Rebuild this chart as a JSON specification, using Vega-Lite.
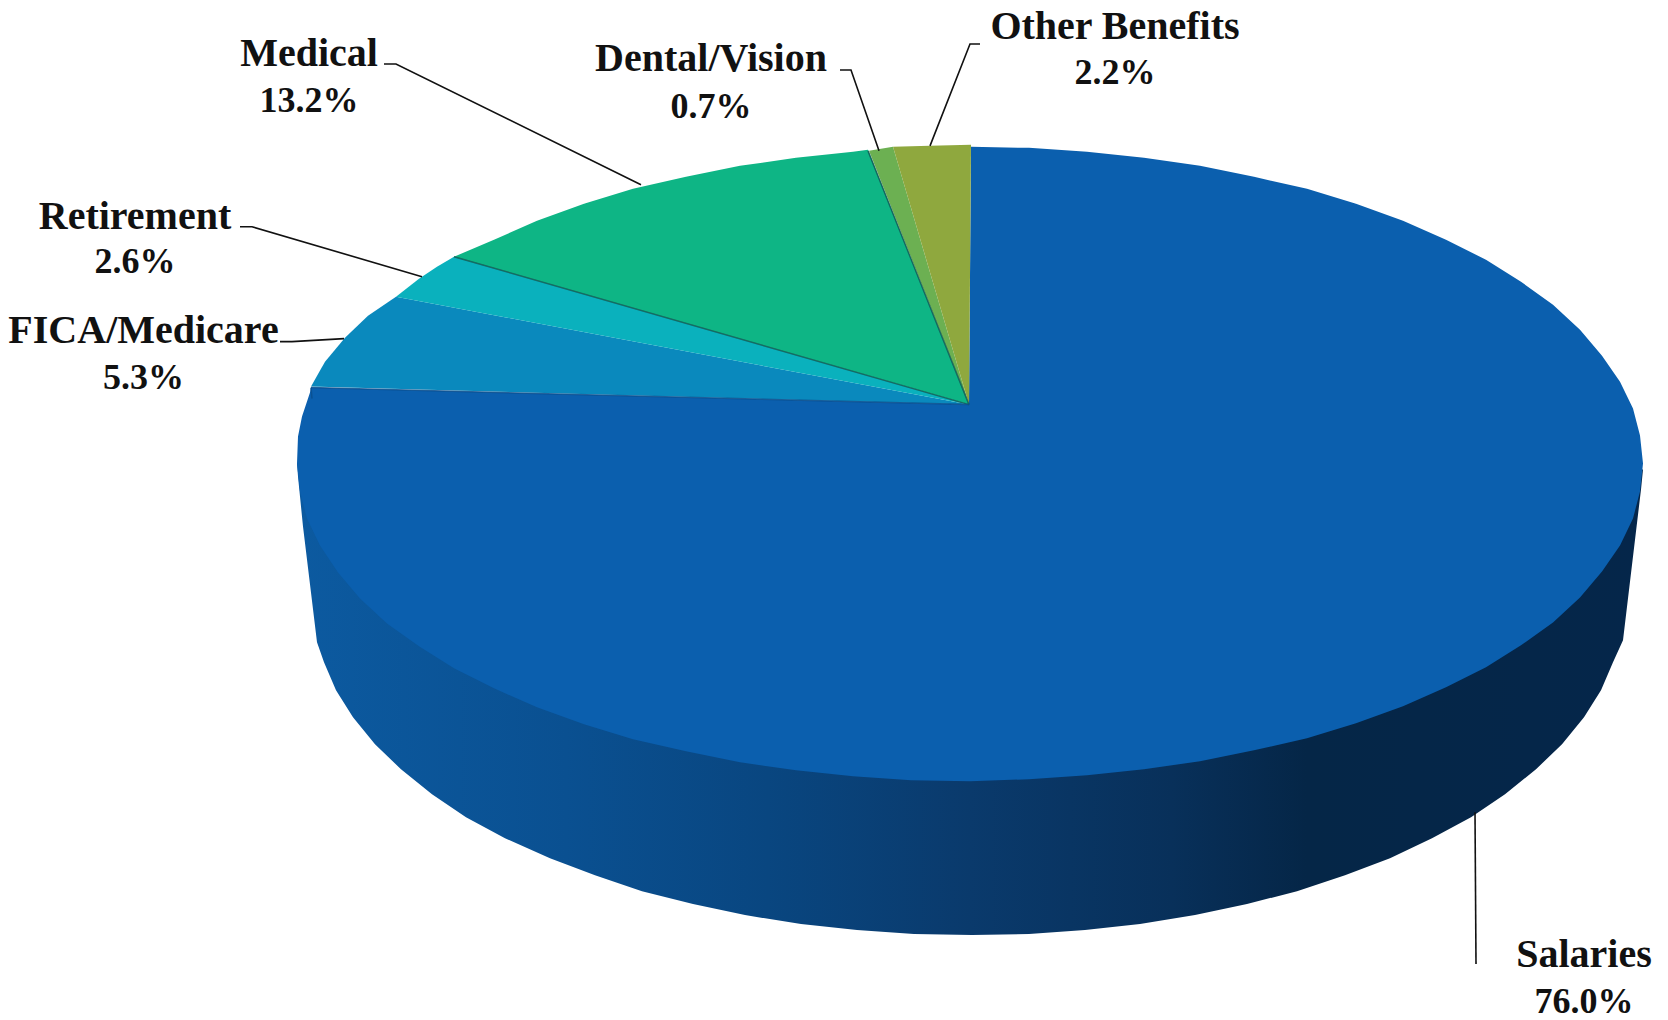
{
  "$schema": "https://vega.github.io/schema/vega-lite/v6.json",
  "width": 1668,
  "height": 1020,
  "padding": 0,
  "autosize": {"type": "fit", "contains": "padding"},
  "background": "#ffffff",
  "view": {"stroke": null},
  "config": {"axis": {"disable": true}},
  "datasets": {
    "shares": [
      {"slice": "Salaries", "share": 0.76, "x": 1584, "yName": 968, "yShare": 1014},
      {"slice": "FICA/Medicare", "share": 0.053, "x": 143.5, "yName": 343, "yShare": 389},
      {"slice": "Retirement", "share": 0.026, "x": 135, "yName": 229, "yShare": 273},
      {"slice": "Medical", "share": 0.132, "x": 309, "yName": 66, "yShare": 112},
      {"slice": "Dental/Vision", "share": 0.007, "x": 711, "yName": 71, "yShare": 118},
      {"slice": "Other Benefits", "share": 0.022, "x": 1115, "yName": 39, "yShare": 84}
    ],
    "side": [
      {"i":0,"x":1643,"y":470},{"i":1,"x":1641,"y":490},{"i":2,"x":1623,"y":641},{"i":3,"x":1613,"y":663},
      {"i":4,"x":1601,"y":691},{"i":5,"x":1584,"y":718},{"i":6,"x":1562,"y":745},{"i":7,"x":1536,"y":770},
      {"i":8,"x":1505,"y":795},{"i":9,"x":1471,"y":818},{"i":10,"x":1432,"y":839},{"i":11,"x":1390,"y":859},
      {"i":12,"x":1345,"y":876},{"i":13,"x":1297,"y":892},{"i":14,"x":1247,"y":905},{"i":15,"x":1195,"y":916},
      {"i":16,"x":1140,"y":925},{"i":17,"x":1085,"y":931},{"i":18,"x":1029,"y":935},{"i":19,"x":972,"y":936},
      {"i":20,"x":914,"y":935},{"i":21,"x":857,"y":931},{"i":22,"x":801,"y":925},{"i":23,"x":745,"y":916},
      {"i":24,"x":693,"y":905},{"i":25,"x":642,"y":892},{"i":26,"x":595,"y":876},{"i":27,"x":550,"y":859},
      {"i":28,"x":505,"y":839},{"i":29,"x":466,"y":818},{"i":30,"x":432,"y":795},{"i":31,"x":401,"y":770},
      {"i":32,"x":375,"y":745},{"i":33,"x":353,"y":718},{"i":34,"x":336,"y":691},{"i":35,"x":324,"y":663},
      {"i":36,"x":317,"y":643},{"i":37,"x":303,"y":527},{"i":38,"x":298,"y":477},{"i":39,"x":297,"y":464}
    ],
    "top": [
      {"slice":"Salaries","i":0,"x":969,"y":405},{"slice":"Salaries","i":1,"x":971,"y":147},
      {"slice":"Salaries","i":2,"x":1029,"y":148},{"slice":"Salaries","i":3,"x":1087,"y":152},
      {"slice":"Salaries","i":4,"x":1144,"y":158},{"slice":"Salaries","i":5,"x":1200,"y":166},
      {"slice":"Salaries","i":6,"x":1254,"y":177},{"slice":"Salaries","i":7,"x":1307,"y":189},
      {"slice":"Salaries","i":8,"x":1356,"y":204},{"slice":"Salaries","i":9,"x":1403,"y":221},
      {"slice":"Salaries","i":10,"x":1446,"y":240},{"slice":"Salaries","i":11,"x":1486,"y":260},
      {"slice":"Salaries","i":12,"x":1521,"y":282},{"slice":"Salaries","i":13,"x":1553,"y":305},
      {"slice":"Salaries","i":14,"x":1580,"y":330},{"slice":"Salaries","i":15,"x":1602,"y":356},
      {"slice":"Salaries","i":16,"x":1620,"y":382},{"slice":"Salaries","i":17,"x":1633,"y":409},
      {"slice":"Salaries","i":18,"x":1640,"y":436},{"slice":"Salaries","i":19,"x":1643,"y":464},
      {"slice":"Salaries","i":20,"x":1640,"y":492},{"slice":"Salaries","i":21,"x":1633,"y":519},
      {"slice":"Salaries","i":22,"x":1620,"y":546},{"slice":"Salaries","i":23,"x":1602,"y":572},
      {"slice":"Salaries","i":24,"x":1580,"y":598},{"slice":"Salaries","i":25,"x":1553,"y":623},
      {"slice":"Salaries","i":26,"x":1521,"y":646},{"slice":"Salaries","i":27,"x":1486,"y":668},
      {"slice":"Salaries","i":28,"x":1446,"y":688},{"slice":"Salaries","i":29,"x":1403,"y":707},
      {"slice":"Salaries","i":30,"x":1356,"y":724},{"slice":"Salaries","i":31,"x":1307,"y":739},
      {"slice":"Salaries","i":32,"x":1254,"y":751},{"slice":"Salaries","i":33,"x":1200,"y":762},
      {"slice":"Salaries","i":34,"x":1144,"y":770},{"slice":"Salaries","i":35,"x":1087,"y":776},
      {"slice":"Salaries","i":36,"x":1029,"y":780},{"slice":"Salaries","i":37,"x":970,"y":782},
      {"slice":"Salaries","i":38,"x":911,"y":781},{"slice":"Salaries","i":39,"x":853,"y":777},
      {"slice":"Salaries","i":40,"x":796,"y":771},{"slice":"Salaries","i":41,"x":740,"y":763},
      {"slice":"Salaries","i":42,"x":686,"y":752},{"slice":"Salaries","i":43,"x":633,"y":740},
      {"slice":"Salaries","i":44,"x":584,"y":725},{"slice":"Salaries","i":45,"x":537,"y":708},
      {"slice":"Salaries","i":46,"x":494,"y":689},{"slice":"Salaries","i":47,"x":454,"y":669},
      {"slice":"Salaries","i":48,"x":419,"y":647},{"slice":"Salaries","i":49,"x":387,"y":624},
      {"slice":"Salaries","i":50,"x":360,"y":599},{"slice":"Salaries","i":51,"x":338,"y":573},
      {"slice":"Salaries","i":52,"x":320,"y":546},{"slice":"Salaries","i":53,"x":307,"y":519},
      {"slice":"Salaries","i":54,"x":300,"y":492},{"slice":"Salaries","i":55,"x":297,"y":464},
      {"slice":"Salaries","i":56,"x":298,"y":437},{"slice":"Salaries","i":57,"x":302,"y":417},
      {"slice":"Salaries","i":58,"x":310,"y":393},{"slice":"Salaries","i":59,"x":311,"y":388},

      {"slice":"FICA/Medicare","i":0,"x":969,"y":405},{"slice":"FICA/Medicare","i":1,"x":311,"y":387},
      {"slice":"FICA/Medicare","i":2,"x":325,"y":362},{"slice":"FICA/Medicare","i":3,"x":345,"y":338},
      {"slice":"FICA/Medicare","i":4,"x":368,"y":316},{"slice":"FICA/Medicare","i":5,"x":396,"y":297},

      {"slice":"Retirement","i":0,"x":969,"y":405},{"slice":"Retirement","i":1,"x":396,"y":297},
      {"slice":"Retirement","i":2,"x":419,"y":279},{"slice":"Retirement","i":3,"x":437,"y":267},
      {"slice":"Retirement","i":4,"x":454,"y":257},

      {"slice":"Medical","i":0,"x":969,"y":405},{"slice":"Medical","i":1,"x":454,"y":257},
      {"slice":"Medical","i":2,"x":494,"y":240},{"slice":"Medical","i":3,"x":537,"y":221},
      {"slice":"Medical","i":4,"x":584,"y":204},{"slice":"Medical","i":5,"x":633,"y":189},
      {"slice":"Medical","i":6,"x":686,"y":177},{"slice":"Medical","i":7,"x":740,"y":166},
      {"slice":"Medical","i":8,"x":796,"y":158},{"slice":"Medical","i":9,"x":853,"y":152},
      {"slice":"Medical","i":10,"x":868,"y":150},

      {"slice":"Dental/Vision","i":0,"x":969,"y":405},{"slice":"Dental/Vision","i":1,"x":869,"y":151},
      {"slice":"Dental/Vision","i":2,"x":893,"y":147},

      {"slice":"Other Benefits","i":0,"x":969,"y":405},{"slice":"Other Benefits","i":1,"x":893,"y":147},
      {"slice":"Other Benefits","i":2,"x":930,"y":146},{"slice":"Other Benefits","i":3,"x":971,"y":145}
    ],
    "seams": [
      {"seam":"Medical/Retirement","kind":"green","i":0,"x":454,"y":257},{"seam":"Medical/Retirement","kind":"green","i":1,"x":969,"y":405},
      {"seam":"Medical/Dental","kind":"green","i":0,"x":868,"y":151},{"seam":"Medical/Dental","kind":"green","i":1,"x":969,"y":405},
      {"seam":"FICA/Salaries","kind":"blue","i":0,"x":311,"y":388},{"seam":"FICA/Salaries","kind":"blue","i":1,"x":969,"y":405},
      {"seam":"Rim corner","kind":"blue","i":0,"x":311,"y":388},{"seam":"Rim corner","kind":"blue","i":1,"x":312,"y":399}
    ],
    "leaders": [
      {"slice":"Medical","i":0,"x":384,"y":64},{"slice":"Medical","i":1,"x":396,"y":64},{"slice":"Medical","i":2,"x":641,"y":185},
      {"slice":"Retirement","i":0,"x":240,"y":227},{"slice":"Retirement","i":1,"x":252,"y":227},{"slice":"Retirement","i":2,"x":422,"y":277},
      {"slice":"FICA/Medicare","i":0,"x":280,"y":342},{"slice":"FICA/Medicare","i":1,"x":292,"y":342},{"slice":"FICA/Medicare","i":2,"x":344,"y":339},
      {"slice":"Dental/Vision","i":0,"x":840,"y":70},{"slice":"Dental/Vision","i":1,"x":851,"y":70},{"slice":"Dental/Vision","i":2,"x":879,"y":151},
      {"slice":"Other Benefits","i":0,"x":980,"y":44},{"slice":"Other Benefits","i":1,"x":970,"y":44},{"slice":"Other Benefits","i":2,"x":930,"y":146},
      {"slice":"Salaries","i":0,"x":1475,"y":813},{"slice":"Salaries","i":1,"x":1476,"y":965}
    ]
  },
  "encoding": {
    "x": {"type": "quantitative", "scale": {"domain": [0, 1668], "nice": false, "zero": false}, "axis": null},
    "y": {"type": "quantitative", "scale": {"domain": [1020, 0], "nice": false, "zero": false}, "axis": null}
  },
  "layer": [
    {
      "data": {"name": "side"},
      "mark": {
        "type": "line",
        "strokeWidth": 0,
        "fill": {
          "gradient": "linear", "x1": 0, "y1": 0, "x2": 1, "y2": 0,
          "stops": [
            {"offset": 0, "color": "#0c5aa0"},
            {"offset": 0.2, "color": "#0a5091"},
            {"offset": 0.35, "color": "#094680"},
            {"offset": 0.5, "color": "#0a3a6c"},
            {"offset": 0.65, "color": "#08305a"},
            {"offset": 0.75, "color": "#052647"},
            {"offset": 1, "color": "#05264a"}
          ]
        }
      },
      "encoding": {
        "x": {"field": "x"},
        "y": {"field": "y"},
        "order": {"field": "i"}
      }
    },
    {
      "data": {"name": "top"},
      "mark": {"type": "line", "strokeWidth": 0},
      "encoding": {
        "x": {"field": "x"},
        "y": {"field": "y"},
        "order": {"field": "i"},
        "detail": {"field": "slice"},
        "fill": {
          "field": "slice",
          "type": "nominal",
          "legend": null,
          "scale": {
            "domain": ["Salaries", "FICA/Medicare", "Retirement", "Medical", "Dental/Vision", "Other Benefits"],
            "range": ["#0b5fae", "#0a89bd", "#0ab1bd", "#0eb585", "#6cb052", "#8fa83e"]
          }
        }
      }
    },
    {
      "data": {"name": "seams"},
      "mark": {"type": "line", "strokeWidth": 1.5, "opacity": 0.85},
      "encoding": {
        "x": {"field": "x"},
        "y": {"field": "y"},
        "order": {"field": "i"},
        "detail": {"field": "seam"},
        "stroke": {
          "field": "kind",
          "type": "nominal",
          "legend": null,
          "scale": {"domain": ["green", "blue"], "range": ["#0f5a55", "#0a4f8e"]}
        }
      }
    },
    {
      "data": {"name": "leaders"},
      "mark": {"type": "line", "stroke": "#111111", "strokeWidth": 1.6},
      "encoding": {
        "x": {"field": "x"},
        "y": {"field": "y"},
        "order": {"field": "i"},
        "detail": {"field": "slice"}
      }
    },
    {
      "data": {"name": "shares"},
      "mark": {"type": "text", "font": "Liberation Serif", "fontWeight": "bold", "fontSize": 40, "color": "#111111", "align": "center", "baseline": "alphabetic"},
      "encoding": {
        "x": {"field": "x"},
        "y": {"field": "yName"},
        "text": {"field": "slice", "type": "nominal"}
      }
    },
    {
      "data": {"name": "shares"},
      "mark": {"type": "text", "font": "Liberation Serif", "fontWeight": "bold", "fontSize": 36, "color": "#111111", "align": "center", "baseline": "alphabetic"},
      "encoding": {
        "x": {"field": "x"},
        "y": {"field": "yShare"},
        "text": {"field": "share", "type": "quantitative", "format": ".1%"}
      }
    }
  ]
}
